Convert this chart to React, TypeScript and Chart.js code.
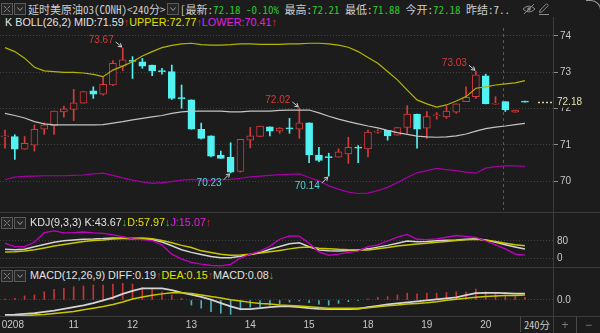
import React, { useEffect, useRef } from 'react';
import { Chart, registerables } from 'chart.js';

Chart.register(...registerables);

// ---------------- data ----------------
const openP = [71.22, 71.23, 70.88, 70.99, 71.43, 71.53, 71.91, 71.98, 72.15, 72.49, 72.40, 72.65, 73.17, 73.32, 73.29, 73.20, 73.04, 73.02, 72.30, 72.24, 71.43, 71.25, 70.72, 70.66, 70.27, 71.13, 71.23, 71.50, 71.38, 71.46, 71.43, 71.61, 70.72, 70.68, 70.66, 70.75, 70.94, 70.89, 71.35, 71.40, 71.27, 71.48, 71.85, 71.46, 71.80, 71.77, 71.90, 72.19, 72.33, 72.90, 72.12, 72.19, 71.90, 72.20];
const highP = [71.41, 71.28, 71.23, 71.55, 71.61, 71.93, 72.07, 72.53, 72.47, 72.60, 72.86, 73.32, 73.67, 73.43, 73.38, 73.20, 73.11, 73.20, 72.65, 72.24, 71.60, 71.25, 70.83, 71.06, 71.15, 71.48, 71.52, 71.50, 71.48, 71.73, 72.02, 71.61, 70.93, 70.77, 70.89, 71.21, 70.98, 71.41, 71.42, 71.40, 71.48, 72.08, 71.85, 71.92, 71.89, 72.07, 72.13, 72.60, 73.03, 72.95, 72.33, 72.19, 71.96, 72.20];
const lowP = [70.91, 70.60, 70.88, 70.83, 71.29, 71.29, 71.76, 71.67, 72.15, 72.28, 72.37, 72.63, 73.04, 72.83, 73.11, 72.91, 72.95, 72.25, 72.01, 71.43, 71.16, 70.67, 70.63, 70.23, 70.25, 70.92, 71.23, 71.25, 71.32, 71.32, 71.18, 70.51, 70.54, 70.14, 70.66, 70.49, 70.51, 70.67, 71.32, 71.13, 71.27, 71.32, 70.91, 71.18, 71.71, 71.73, 71.87, 72.19, 72.28, 72.13, 72.12, 71.92, 71.90, 72.18];
const closeP = [71.24, 70.88, 71.04, 71.43, 71.55, 71.93, 71.99, 72.16, 72.47, 72.40, 72.67, 73.25, 73.34, 73.30, 73.17, 73.04, 73.02, 72.28, 72.27, 71.43, 71.18, 70.69, 70.63, 70.25, 71.15, 71.25, 71.52, 71.38, 71.46, 71.44, 71.61, 70.72, 70.57, 70.65, 70.81, 70.93, 70.91, 71.35, 71.38, 71.25, 71.48, 71.85, 71.43, 71.78, 71.83, 71.93, 72.13, 72.31, 72.93, 72.13, 72.15, 71.96, 71.96, 72.18];

const bollUpper = [73.68, 73.57, 73.39, 73.14, 73.04, 73.02, 73.00, 73.00, 72.98, 72.94, 72.88, 73.06, 73.17, 73.29, 73.45, 73.57, 73.68, 73.74, 73.78, 73.80, 73.76, 73.75, 73.75, 73.76, 73.78, 73.78, 73.77, 73.77, 73.77, 73.78, 73.78, 73.80, 73.80, 73.78, 73.75, 73.69, 73.57, 73.41, 73.25, 73.02, 72.79, 72.51, 72.24, 72.13, 72.04, 72.10, 72.21, 72.33, 72.56, 72.60, 72.65, 72.68, 72.71, 72.77];
const bollMid = [71.87, 71.81, 71.74, 71.64, 71.58, 71.55, 71.55, 71.55, 71.55, 71.55, 71.56, 71.60, 71.64, 71.69, 71.73, 71.77, 71.81, 71.87, 71.91, 71.93, 71.93, 71.93, 71.93, 71.91, 71.91, 71.93, 71.93, 71.93, 71.95, 71.96, 71.96, 71.96, 71.88, 71.79, 71.71, 71.64, 71.58, 71.52, 71.47, 71.40, 71.34, 71.29, 71.24, 71.22, 71.21, 71.22, 71.25, 71.30, 71.38, 71.45, 71.49, 71.52, 71.56, 71.59];
const bollLower = [70.04, 70.11, 70.13, 70.14, 70.15, 70.15, 70.15, 70.16, 70.17, 70.20, 70.22, 70.16, 70.09, 70.03, 69.98, 69.94, 69.96, 69.99, 70.03, 70.05, 70.03, 70.03, 70.04, 70.05, 70.08, 70.12, 70.14, 70.16, 70.18, 70.19, 70.20, 70.10, 70.01, 69.87, 69.78, 69.70, 69.66, 69.67, 69.74, 69.83, 69.96, 70.10, 70.23, 70.29, 70.35, 70.32, 70.29, 70.25, 70.22, 70.36, 70.40, 70.42, 70.42, 70.41];

const kLine = [42, 40, 42, 54, 64, 74, 81, 85, 88, 89, 91, 94, 93, 90, 89, 87, 75, 58, 40, 28, 18, 9, 4, 4, 10, 18, 27, 42, 55, 67, 72, 54, 39, 35, 34, 36, 39, 44, 52, 60, 70, 80, 76, 78, 81, 83, 85, 88, 90, 84, 74, 63, 53, 43.67];
const dLine = [30, 31, 34, 40, 48, 57, 64, 71, 78, 82, 85, 89, 91, 93, 94, 90, 82, 72, 60, 50, 35, 27, 19, 15, 16, 19, 25, 31, 37, 44, 50, 53, 47, 45, 42, 40, 39, 39, 44, 50, 57, 62, 66, 70, 74, 78, 82, 86, 88, 85, 78, 70, 63, 57.97];
const jLine = [69, 54, 54, 74, 118, 126, 117, 118, 121, 117, 115, 108, 100, 90, 86, 82, 62, 20, -3, -18, -26, -31, -34, -27, 2, 20, 34, 56, 88, 103, 102, 70, 30, 15, 20, 28, 34, 54, 62, 80, 98, 110, 88, 86, 90, 97, 105, 101, 96, 80, 62, 44, 20, 15.07];

const diffLine = [-0.44, -0.43, -0.41, -0.39, -0.35, -0.31, -0.26, -0.21, -0.16, -0.09, -0.01, 0.07, 0.18, 0.27, 0.34, 0.34, 0.34, 0.29, 0.22, 0.16, 0.09, 0.01, -0.09, -0.19, -0.27, -0.27, -0.24, -0.21, -0.19, -0.19, -0.21, -0.24, -0.26, -0.27, -0.27, -0.27, -0.26, -0.21, -0.17, -0.13, -0.10, -0.07, -0.04, -0.01, 0.02, 0.05, 0.08, 0.14, 0.20, 0.21, 0.21, 0.20, 0.19, 0.19];
const deaLine = [-0.47, -0.46, -0.46, -0.44, -0.43, -0.40, -0.37, -0.34, -0.29, -0.24, -0.19, -0.13, -0.06, 0.03, 0.09, 0.14, 0.18, 0.21, 0.21, 0.19, 0.15, 0.10, 0.06, 0.01, -0.03, -0.07, -0.10, -0.12, -0.15, -0.16, -0.18, -0.20, -0.22, -0.24, -0.24, -0.24, -0.24, -0.23, -0.20, -0.17, -0.15, -0.12, -0.10, -0.08, -0.05, -0.01, 0.02, 0.05, 0.08, 0.10, 0.12, 0.13, 0.13, 0.15];
const macdHist = [0.03, 0.05, 0.12, 0.15, 0.24, 0.31, 0.34, 0.39, 0.41, 0.44, 0.44, 0.47, 0.49, 0.47, 0.37, 0.32, 0.24, 0.15, 0.05, -0.15, -0.24, -0.34, -0.39, -0.42, -0.29, -0.21, -0.20, -0.15, -0.12, -0.06, -0.03, -0.08, -0.12, -0.15, -0.10, -0.05, -0.02, 0.03, 0.08, 0.10, 0.15, 0.20, 0.18, 0.20, 0.20, 0.22, 0.24, 0.24, 0.32, 0.24, 0.20, 0.15, 0.10, 0.08];

const dayLabels = ['0208', '11', '12', '13', '14', '15', '18', '19', '20'];
const dayLabelIndex = [0.8, 7, 13, 19, 25, 31, 37, 43, 49];
const priceTicks = [70, 71, 72, 73, 74];
const kdjTicks = [0, 20, 50, 80, 100];
const kdjLabelledTicks = [0, 80];
const macdTicks = [0];

const markIndex = [12, 30, 23, 33, 48];
const markKind = ['high', 'high', 'low', 'low', 'high'];
const lastPrice = 72.18;
const sessionMarkIndex = 50.76;

// ---------------- style ----------------
const BG = '#1c1c1c';
const GRID = '#404040';
const RED = '#d83a3a';
const CYAN = '#52f2f2';
const HIST_RED = '#c43434';
const HIST_CYAN = '#46b2ba';
const UPPER_C = '#b4b400';
const MID_C = '#c4c4c4';
const LOWER_C = '#a400a4';
const K_C = '#d4d4d4';
const D_C = '#c8c800';
const J_C = '#c400c4';
const AXIS_TXT = '#c8c8c8';
const GREEN = '#2cc82c';
const ARROW_RED = '#e03030';
const FONT = '"Liberation Sans", Arial, sans-serif';
const CJK = '"Noto Sans Mono CJK SC", "Noto Sans CJK SC", "DejaVu Sans Mono", monospace';
const SEP = '#3c3c3c';

const AXIS_W = 47;
const X_MIN = -0.51;
const X_MAX = 55.86;

const pts = (arr: number[]) => arr.map((v, i) => ({ x: i, y: v }));
const idx = openP.map((_, i) => i);
const isUp = (i: number) => closeP[i] >= openP[i];

function xAxis(show: boolean): any {
  return {
    type: 'linear',
    min: X_MIN,
    max: X_MAX,
    offset: false,
    display: show,
    grid: { display: false, drawTicks: false, offset: false },
    border: { display: false },
    afterFit: (s: any) => {
      if (show) s.height = 16;
      s.paddingLeft = 0;
      s.paddingRight = 0;
    },
    afterBuildTicks: (s: any) => {
      s.ticks = dayLabelIndex.map((v) => ({ value: v }));
    },
    ticks: {
      autoSkip: false,
      maxRotation: 0,
      minRotation: 0,
      padding: 2,
      color: AXIS_TXT,
      font: { family: FONT, size: 10 },
      callback: (_v: any, i: number) => dayLabels[i],
    },
  };
}

function yAxis(min: number, max: number, ticks: number[], fmt: (v: number) => string, marks: boolean): any {
  return {
    type: 'linear',
    position: 'right',
    min,
    max,
    afterFit: (s: any) => {
      s.width = AXIS_W;
      s.paddingTop = 0;
      s.paddingBottom = 0;
    },
    afterBuildTicks: (s: any) => {
      s.ticks = ticks.map((v) => ({ value: v }));
    },
    grid: { color: GRID, lineWidth: 1, drawTicks: marks, tickLength: 5, tickColor: '#8c8c8c', tickBorderDash: [], tickWidth: 1 },
    border: { display: false, dash: [1, 2] },
    ticks: { color: AXIS_TXT, padding: marks ? 2 : 4, font: { family: FONT, size: 10 }, callback: (v: any) => fmt(Number(v)) },
  };
}

const baseOptions: any = {
  responsive: true,
  maintainAspectRatio: false,
  animation: false,
  events: [],
  layout: { padding: 0 },
  plugins: { legend: { display: false }, tooltip: { enabled: false } },
};

function drawArrow(ctx: CanvasRenderingContext2D, x1: number, y1: number, x2: number, y2: number) {
  ctx.beginPath();
  ctx.moveTo(x1, y1);
  ctx.lineTo(x2, y2);
  ctx.stroke();
  const a = Math.atan2(y2 - y1, x2 - x1);
  ctx.beginPath();
  ctx.moveTo(x2 - 4 * Math.cos(a - 0.55), y2 - 4 * Math.sin(a - 0.55));
  ctx.lineTo(x2, y2);
  ctx.lineTo(x2 - 4 * Math.cos(a + 0.55), y2 - 4 * Math.sin(a + 0.55));
  ctx.stroke();
}

const mainOverlay = {
  id: 'mainOverlay',
  beforeDatasetsDraw(chart: any) {
    const { ctx, chartArea, scales } = chart;
    const sx = Math.round(scales.x.getPixelForValue(sessionMarkIndex)) + 0.5;
    ctx.save();
    ctx.strokeStyle = '#b83030';
    ctx.lineWidth = 1;
    ctx.setLineDash([3, 3]);
    ctx.beginPath();
    ctx.moveTo(sx, chartArea.top);
    ctx.lineTo(sx, chartArea.bottom);
    ctx.stroke();
    ctx.restore();
  },
  afterDraw(chart: any) {
    const { ctx, chartArea, scales } = chart;
    const xs = scales.x;
    const ys = scales.y;
    ctx.save();
    ctx.font = `10px ${FONT}`;
    ctx.textBaseline = 'middle';
    ctx.textAlign = 'right';
    markIndex.forEach((mi, k) => {
      const high = markKind[k] === 'high';
      const v = high ? highP[mi] : lowP[mi];
      const cx = xs.getPixelForValue(mi);
      const py = ys.getPixelForValue(v);
      ctx.strokeStyle = '#cfcfcf';
      ctx.lineWidth = 1;
      if (high) {
        drawArrow(ctx, cx - 7, py - 6, cx - 1, py - 1);
        ctx.fillStyle = RED;
        ctx.fillText(v.toFixed(2), cx - 9, py - 8);
      } else {
        drawArrow(ctx, cx - 7, py + 7, cx - 1, py + 1);
        ctx.fillStyle = '#4fd8dc';
        ctx.fillText(v.toFixed(2), cx - 9, py + 10);
      }
    });
    // last price marker
    const ly = Math.round(ys.getPixelForValue(lastPrice)) + 0.5;
    ctx.strokeStyle = '#d8d0a0';
    ctx.lineWidth = 1.5;
    ctx.setLineDash([2, 2]);
    ctx.beginPath();
    ctx.moveTo(chartArea.right - 15, ly);
    ctx.lineTo(chartArea.right - 1, ly);
    ctx.stroke();
    ctx.setLineDash([]);
    ctx.fillStyle = BG;
    ctx.fillRect(chartArea.right + 2, ly - 6, 44, 11);
    ctx.fillStyle = '#e6dfb2';
    ctx.textAlign = 'left';
    ctx.fillText(lastPrice.toFixed(2), chartArea.right + 4, ly);
    ctx.restore();
  },
};

function IconBox({ left, top, kind }: { left: number; top: number; kind: 'chev' | 'exp' }) {
  return (
    <div style={{ position: 'absolute', left, top, width: 10, height: 10, border: '1px solid #5a5a5a', background: '#262626' }}>
      <svg width="10" height="10" viewBox="0 0 10 10" style={{ display: 'block' }}>
        {kind === 'chev' ? (
          <polyline points="2.5,3.5 5,6.5 7.5,3.5" fill="none" stroke="#9a9a9a" strokeWidth="1" />
        ) : (
          <path d="M2 2 L4.5 4.5 M8 2 L5.5 4.5 M2 8 L4.5 5.5 M8 8 L5.5 5.5" stroke="#8a8a8a" strokeWidth="1" />
        )}
      </svg>
    </div>
  );
}

const last = (a: number[]) => a[a.length - 1];

export default function App() {
  const mainRef = useRef<HTMLCanvasElement>(null);
  const kdjRef = useRef<HTMLCanvasElement>(null);
  const macdRef = useRef<HTMLCanvasElement>(null);

  useEffect(() => {
    document.body.style.margin = '0';
    document.body.style.background = BG;
    const charts: Chart[] = [];

    charts.push(
      new Chart(mainRef.current as HTMLCanvasElement, {
        type: 'bar',
        data: {
          datasets: [
            { type: 'line', data: pts(bollUpper), borderColor: UPPER_C, borderWidth: 1.2, pointRadius: 0, tension: 0, order: 0 } as any,
            { type: 'line', data: pts(bollMid), borderColor: MID_C, borderWidth: 1.2, pointRadius: 0, tension: 0, order: 0 } as any,
            { type: 'line', data: pts(bollLower), borderColor: LOWER_C, borderWidth: 1.2, pointRadius: 0, tension: 0, order: 0 } as any,
            {
              type: 'bar',
              data: idx.map((i) => ({ x: i, y: [openP[i], closeP[i]] })),
              backgroundColor: idx.map((i) => (isUp(i) ? BG : CYAN)),
              borderColor: idx.map((i) => (isUp(i) ? RED : CYAN)),
              borderWidth: 1,
              borderSkipped: false,
              barThickness: 7,
              minBarLength: 1,
              grouped: false,
              order: 1,
            } as any,
            {
              type: 'bar',
              data: idx.map((i) => ({ x: i, y: [lowP[i], highP[i]] })),
              backgroundColor: idx.map((i) => (isUp(i) ? RED : CYAN)),
              borderWidth: 0,
              barThickness: 1,
              minBarLength: 1,
              grouped: false,
              order: 2,
            } as any,
          ],
        },
        options: {
          ...baseOptions,
          scales: {
            x: xAxis(false),
            y: yAxis(69.206, 74.22, priceTicks, (v) => String(v), true),
          },
        },
        plugins: [mainOverlay],
      } as any)
    );

    charts.push(
      new Chart(kdjRef.current as HTMLCanvasElement, {
        type: 'line',
        data: {
          datasets: [
            { data: pts(jLine), borderColor: J_C, borderWidth: 1.3, pointRadius: 0, tension: 0 },
            { data: pts(dLine), borderColor: D_C, borderWidth: 1.5, pointRadius: 0, tension: 0 },
            { data: pts(kLine), borderColor: K_C, borderWidth: 1.5, pointRadius: 0, tension: 0 },
          ],
        },
        options: {
          ...baseOptions,
          scales: {
            x: xAxis(false),
            y: yAxis(-38.8, 139.3, kdjTicks, (v) => (kdjLabelledTicks.includes(v) ? String(v) : ''), false),
          },
        },
      } as any)
    );

    charts.push(
      new Chart(macdRef.current as HTMLCanvasElement, {
        type: 'bar',
        data: {
          datasets: [
            { type: 'line', data: pts(deaLine), borderColor: D_C, borderWidth: 1.5, pointRadius: 0, tension: 0, order: 0 } as any,
            { type: 'line', data: pts(diffLine), borderColor: K_C, borderWidth: 1.8, pointRadius: 0, tension: 0, order: 0 } as any,
            {
              type: 'bar',
              data: pts(macdHist),
              backgroundColor: macdHist.map((v) => (v >= 0 ? HIST_RED : HIST_CYAN)),
              borderWidth: 0,
              barThickness: 1,
              grouped: false,
              order: 1,
            } as any,
          ],
        },
        options: {
          ...baseOptions,
          scales: {
            x: xAxis(true),
            y: yAxis(-0.5, 0.529, macdTicks, (v) => v.toFixed(1), false),
          },
        },
      } as any)
    );

    return () => charts.forEach((c) => c.destroy());
  }, []);

  const abs = (left: number, top: number, extra: any = {}) => ({ position: 'absolute' as const, left, top, whiteSpace: 'nowrap' as const, ...extra });
  const hLine = (top: number) => <div style={{ position: 'absolute', left: 0, top, width: 600, height: 1, background: SEP }} />;

  return (
    <div style={{ position: 'fixed', left: 0, top: 0, width: 600, height: 333, background: BG, overflow: 'hidden' }}>
      {/* title row */}
      <IconBox left={1} top={3} kind="exp" />
      <IconBox left={14} top={3} kind="chev" />
      <div style={abs(28, 2, { font: `11px ${CJK}`, lineHeight: '14px', color: '#cfcfcf' })}>{'延时美原油03(CONH)<240分>'}</div>
      <IconBox left={167} top={3} kind="chev" />
      <div style={abs(180, 2, { font: `11px ${CJK}`, lineHeight: '14px', color: '#cfcfcf' })}>
        {'[最新:'}
        <span style={{ color: GREEN }}>{'72.18 -0.10%'}</span>
        {' 最高:'}
        <span style={{ color: GREEN }}>{'72.21'}</span>
        {' 最低:'}
        <span style={{ color: GREEN }}>{'71.88'}</span>
        {' 今开:'}
        <span style={{ color: GREEN }}>{'72.18'}</span>
        {' 昨结:7..'}
      </div>
      <svg style={{ position: 'absolute', left: 522, top: 3 }} width="14" height="12" viewBox="0 0 14 12">
        <path d="M1 6 Q7 0 13 6 Q7 12 1 6Z" fill="none" stroke="#8a8a8a" strokeWidth="1" />
        <circle cx="7" cy="6" r="1.8" fill="#8a8a8a" />
        <line x1="2" y1="11" x2="12" y2="1" stroke="#8a8a8a" strokeWidth="1" />
      </svg>
      <svg style={{ position: 'absolute', left: 537, top: 2 }} width="13" height="13" viewBox="0 0 13 13">
        <path d="M2.5 10.5 L3.2 8 L9.5 1.7 L11.3 3.5 L5 9.8 Z" fill="none" stroke="#8a8a8a" strokeWidth="1" />
        <line x1="2" y1="12.5" x2="12" y2="12.5" stroke="#8a8a8a" strokeWidth="1" />
      </svg>
      <div style={{ position: 'absolute', left: 586, top: 0, width: 14, height: 14, borderTop: '1px solid #9a9a9a', borderRight: '1px solid #9a9a9a', borderTopRightRadius: 10 }} />

      {/* BOLL legend */}
      <div style={abs(5, 16, { font: `10.8px ${FONT}`, lineHeight: '12px', color: '#e2e2e2' })}>
        {`K BOLL(26,2) MID:${last(bollMid).toFixed(2)}`}
        <span style={{ color: ARROW_RED }}>↑</span>
        <span style={{ color: '#e0e000' }}>{`UPPER:${last(bollUpper).toFixed(2)}`}</span>
        <span style={{ color: ARROW_RED }}>↑</span>
        <span style={{ color: '#e020e0' }}>{`LOWER:${last(bollLower).toFixed(2)}`}</span>
        <span style={{ color: ARROW_RED }}>↑</span>
      </div>

      {/* charts */}
      <div style={{ position: 'absolute', left: 0, top: 28, width: 600, height: 182 }}>
        <canvas ref={mainRef} />
      </div>
      <div style={{ position: 'absolute', left: 0, top: 228, width: 600, height: 39 }}>
        <canvas ref={kdjRef} />
      </div>
      <div style={{ position: 'absolute', left: 0, top: 282, width: 600, height: 51 }}>
        <canvas ref={macdRef} />
      </div>

      {/* separators */}
      {hLine(212)}
      {hLine(267)}
      {hLine(316)}
      <div style={{ position: 'absolute', left: 553, top: 17, width: 1, height: 316, background: SEP }} />

      {/* KDJ header */}
      <IconBox left={1} top={217} kind="exp" />
      <IconBox left={14} top={217} kind="chev" />
      <div style={abs(30, 216, { font: `10.8px ${FONT}`, lineHeight: '12px', color: '#e2e2e2' })}>
        {`KDJ(9,3,3) K:${last(kLine).toFixed(2)}`}
        <span style={{ color: GREEN }}>↓</span>
        <span style={{ color: '#e0e000' }}>{`D:${last(dLine).toFixed(2)}`}</span>
        <span style={{ color: GREEN }}>↓</span>
        <span style={{ color: '#e020e0' }}>{`J:${last(jLine).toFixed(2)}`}</span>
        <span style={{ color: ARROW_RED }}>↑</span>
      </div>

      {/* MACD header */}
      <IconBox left={1} top={270} kind="exp" />
      <IconBox left={14} top={270} kind="chev" />
      <div style={abs(30, 269, { font: `10.8px ${FONT}`, lineHeight: '12px', color: '#e2e2e2' })}>
        {`MACD(12,26,9) DIFF:${last(diffLine).toFixed(2)}`}
        <span style={{ color: ARROW_RED }}>↑</span>
        <span style={{ color: '#e0e000' }}>{`DEA:${last(deaLine).toFixed(2)}`}</span>
        <span style={{ color: ARROW_RED }}>↑</span>
        {`MACD:${last(macdHist).toFixed(2)}`}
        <span style={{ color: GREEN }}>↓</span>
      </div>

      {/* bottom right controls */}
      <div style={{ position: 'absolute', left: 520, top: 317, width: 32, height: 15, borderLeft: '1px solid #4a4a4a', background: BG, color: '#c8c8c8', font: `10.5px ${CJK}`, lineHeight: '16px', textAlign: 'center' }}>
        {'240分'}
      </div>
      <div style={{ position: 'absolute', left: 554, top: 317, width: 22, height: 16, borderRight: '1px solid #4a4a4a', color: '#7a7a7a', font: `12px ${FONT}`, lineHeight: '16px', textAlign: 'center' }}>+</div>
      <div style={{ position: 'absolute', left: 577, top: 317, width: 23, height: 16, color: '#7a7a7a', font: `12px ${FONT}`, lineHeight: '16px', textAlign: 'center' }}>−</div>
    </div>
  );
}
